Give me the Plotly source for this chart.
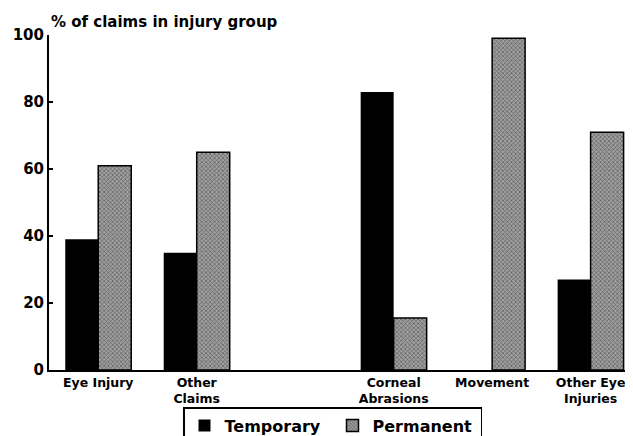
import plotly.graph_objects as go

categories = ["Eye Injury", "Other<br>Claims", "Corneal<br>Abrasions", "Movement", "Other Eye<br>Injuries"]
positions = [0, 1, 3, 4, 5]
temporary = [39, 35, 83, 0, 27]
permanent = [61, 65, 15.5, 99, 71]
y_ticks = [0, 20, 40, 60, 80, 100]

FONT = "DejaVu Sans"
W, H = 625, 428  # page body adds an 8px offset

fig = go.Figure()
fig.add_trace(go.Bar(
    x=positions, y=temporary, name="<b>Temporary</b>",
    marker=dict(color="black", line=dict(color="black", width=0)),
))
fig.add_trace(go.Bar(
    x=positions, y=permanent, name="<b>Permanent</b>",
    marker=dict(color="#8a8a8a", line=dict(color="black", width=1.5),
                pattern=dict(shape="x", fgcolor="#1a1a1a", bgcolor="#a0a0a0", size=3, solidity=0.4)),
))

fig.update_layout(
    width=W, height=H,
    margin=dict(l=41, r=3, t=27, b=66, autoexpand=False),
    paper_bgcolor="white", plot_bgcolor="white",
    barmode="group", bargap=0.33, bargroupgap=0,
    showlegend=True,
    legend=dict(orientation="h", x=(183 - 8) / W, xref="container", y=1 - (407 - 8) / H, yref="container",
                xanchor="left", yanchor="top",
                bordercolor="black", borderwidth=1.5, bgcolor="white",
                font=dict(family=FONT, size=16, color="black"),
                itemwidth=30, entrywidthmode="pixels", entrywidth=103),
    font=dict(family=FONT, color="black"),
)
fig.update_xaxes(
    automargin=False,
    range=[-0.5, 5.4], tickvals=positions, ticktext=["<b>%s</b>" % c for c in categories],
    showline=True, linecolor="black", linewidth=1.5, ticks="", showgrid=False, zeroline=False,
    tickfont=dict(family=FONT, size=12.5, color="black"),
)
fig.update_yaxes(
    automargin=False,
    range=[0, 100], tickvals=y_ticks, ticktext=["<b>%d</b>" % v for v in y_ticks],
    showline=True, linecolor="black", linewidth=2, ticks="inside", ticklen=4, tickwidth=1.5,
    tickcolor="black", showgrid=False, zeroline=False,
    tickfont=dict(family=FONT, size=15, color="black"),
)
fig.add_annotation(
    text="<b>% of claims in injury group</b>", xref="paper", yref="paper",
    x=0, y=1, xanchor="left", yanchor="bottom", yshift=2, showarrow=False,
    font=dict(family=FONT, size=15, color="black"),
)
fig.write_html("out.html")
